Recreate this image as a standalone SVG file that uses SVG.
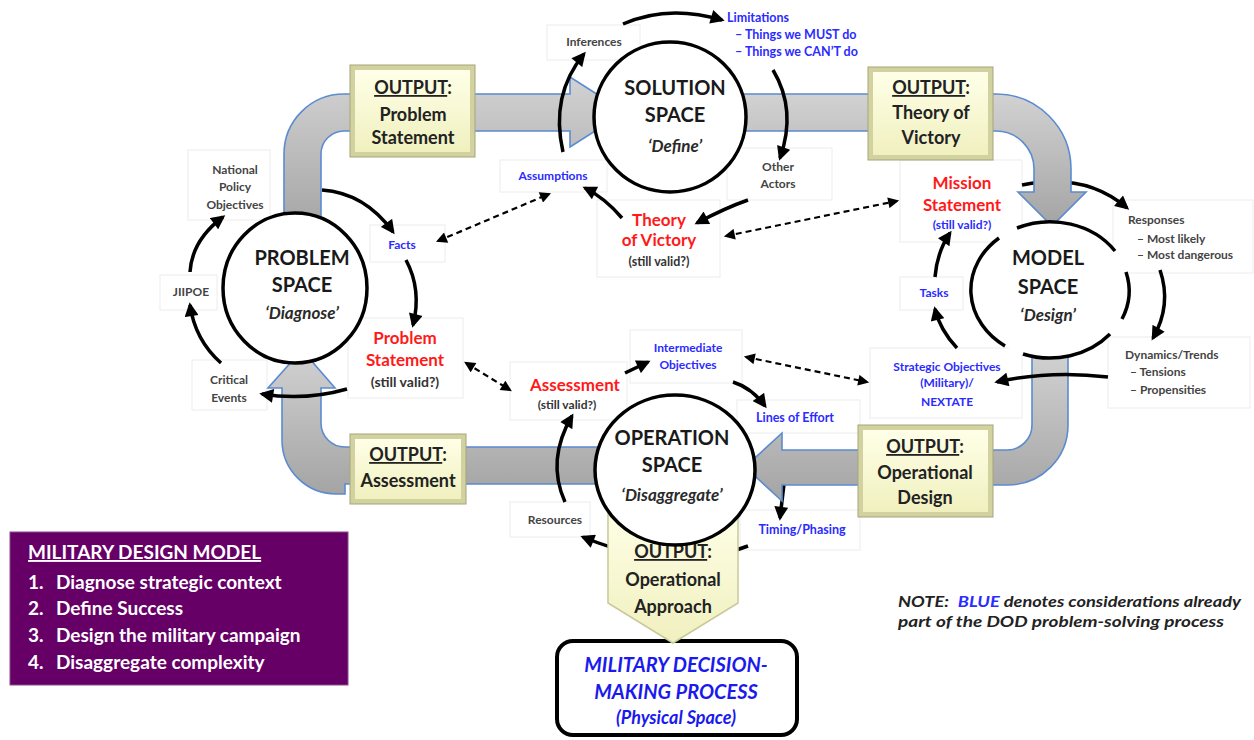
<svg xmlns="http://www.w3.org/2000/svg" width="1254" height="740" viewBox="0 0 1254 740">
<defs>
<style>
text{font-family:Lato,"Open Sans","Liberation Sans",sans-serif}
.lb{fill:#fff;stroke:#ececec;stroke-width:1}
.band{fill:url(#gray);stroke:#5b8bd0;stroke-width:1.6}
.space{fill:#fff;stroke:#000;stroke-width:3.5}
.arc{fill:none;stroke:#000;stroke-width:3.5}
.conn{fill:none;stroke:#000;stroke-width:3.5;marker-end:url(#ah)}
.dash{fill:none;stroke:#000;stroke-width:2.2;stroke-dasharray:6 4;marker-start:url(#dh);marker-end:url(#dh)}
.title{font-size:20px;font-weight:bold;fill:#1a1a1a;text-anchor:middle}
.sub{font-size:17px;font-weight:bold;font-style:italic;fill:#2a2a2a;text-anchor:middle}
.out{font-size:18px;font-weight:bold;fill:#222;text-anchor:middle}
.ul{text-decoration:underline}
.dk{font-size:12px;font-weight:bold;fill:#444;text-anchor:middle}
.dkl{font-size:12px;font-weight:bold;fill:#444}
.bl{font-size:12px;font-weight:bold;fill:#2b2bff;text-anchor:middle}
.bll{font-size:12.5px;font-weight:bold;fill:#2b2bff}
.rd{font-size:17px;font-weight:bold;fill:#ff1a1a;text-anchor:middle}
.sv{font-size:12.5px;font-weight:bold;fill:#333;text-anchor:middle}
.obox{fill:#d2d2a0;stroke:#a5a57a;stroke-width:1}
.obin{fill:url(#yel)}
.pur{font-size:19px;font-weight:bold;fill:#fff}
.md{font-size:20px;font-weight:bold;font-style:italic;fill:#1a1aee;text-anchor:middle}
.note{font-size:14.5px;font-weight:bold;font-style:italic;fill:#222}
</style>
<linearGradient id="gray" x1="0" y1="0" x2="0" y2="1">
<stop offset="0" stop-color="#d2d2d2"/><stop offset="1" stop-color="#a4a4a4"/>
</linearGradient>
<linearGradient id="yel" x1="0" y1="0" x2="0" y2="1">
<stop offset="0" stop-color="#ffffe8"/><stop offset="1" stop-color="#f0f0bf"/>
</linearGradient>
<marker id="ah" viewBox="0 0 10 10" refX="8" refY="5" markerWidth="15" markerHeight="14" markerUnits="userSpaceOnUse" orient="auto"><path d="M0,0 L10,5 L0,10 Z" fill="#000"/></marker>
<marker id="dh" viewBox="0 0 10 10" refX="8" refY="5" markerWidth="12" markerHeight="11" markerUnits="userSpaceOnUse" orient="auto-start-reverse"><path d="M0,0 L10,5 L0,10 Z" fill="#000"/></marker>
</defs>
<rect width="1254" height="740" fill="#fff"/>

<g id="label-boxes">
<rect class="lb" x="188" y="150" width="82" height="70"/>
<rect class="lb" x="160" y="275" width="57" height="35"/>
<rect class="lb" x="192" y="360" width="75" height="50"/>
<rect class="lb" x="370" y="225" width="75" height="37"/>
<rect class="lb" x="348" y="318" width="115" height="80"/>
<rect class="lb" x="547" y="25" width="93" height="35"/>
<rect class="lb" x="727" y="148" width="105" height="52"/>
<rect class="lb" x="500" y="160" width="107" height="32"/>
<rect class="lb" x="597" y="200" width="123" height="77"/>
<rect class="lb" x="900" y="160" width="122" height="82"/>
<rect class="lb" x="900" y="277" width="63" height="33"/>
<rect class="lb" x="1113" y="200" width="140" height="73"/>
<rect class="lb" x="1108" y="337" width="142" height="71"/>
<rect class="lb" x="870" y="348" width="152" height="70"/>
<rect class="lb" x="510" y="362" width="117" height="58"/>
<rect class="lb" x="630" y="330" width="112" height="53"/>
<rect class="lb" x="737" y="400" width="123" height="33"/>
<rect class="lb" x="740" y="510" width="120" height="40"/>
<rect class="lb" x="510" y="502" width="80" height="35"/>
</g>

<g id="mdmp">
<rect x="557" y="641" width="240" height="94" rx="16" fill="#fff" stroke="#000" stroke-width="4"/>
<text class="md" x="676" y="672">MILITARY DECISION-</text>
<text class="md" x="676" y="699">MAKING PROCESS</text>
<text class="md" x="676" y="724" style="font-size:18px">(Physical Space)</text>
</g>

<g id="connectors-under">
<path class="conn" d="M322,190 Q365,193 393,232"/>
<path class="conn" d="M1022,185 Q1085,172 1127,208"/>
<path class="conn" d="M784,484 L780,518"/>
<path class="conn" d="M748,546 Q675,575 583,537"/>
</g>

<g id="flow-bands">
<path class="band" d="M284,232 L284,154 A60,60 0 0 1 344,94 L570,94 L570,77 L625,112 L570,147 L570,131 L344,131 A23,23 0 0 0 321,154 L321,232 Z"/>
<path class="band" d="M740,94 L996,94 A75,75 0 0 1 1071,169 L1071,192 L1086,192 L1052,226 L1018,192 L1034,192 L1034,169 A38,38 0 0 0 996,131 L740,131 Z"/>
<path class="band" d="M1032,350 L1032,425 A25,25 0 0 1 1007,450 L782,450 L782,433 L745,467 L782,501 L782,485 L1008,485 A60,60 0 0 0 1068,425 L1068,350 Z"/>
<path class="band" d="M610,447 L345,447 A24,24 0 0 1 321,423 L321,388 L335,388 L302,350 L268,388 L282,388 L282,440 A54,54 0 0 0 336,494 L345,494 L345,484 L610,484 Z"/>
</g>

<g id="output-approach">
<path d="M608,505 L738,505 L738,603 L673,643 L608,603 Z" fill="url(#yel)" stroke="#c9c99a" stroke-width="1.5"/>
<text class="out" x="673" y="558"><tspan class="ul">OUTPUT</tspan>:</text>
<text class="out" x="673" y="586">Operational</text>
<text class="out" x="673" y="613">Approach</text>
</g>

<g id="problem-space">
<ellipse class="space" cx="295" cy="288" rx="72" ry="75"/>
<text class="title" x="302" y="265">PROBLEM</text>
<text class="title" x="302" y="292">SPACE</text>
<text class="sub" x="302" y="319">‘Diagnose’</text>
</g>
<g id="solution-space">
<ellipse class="space" cx="670" cy="117" rx="76" ry="75"/>
<text class="title" x="675" y="95">SOLUTION</text>
<text class="title" x="675" y="122">SPACE</text>
<text class="sub" x="675" y="152">‘Define’</text>
</g>
<g id="model-space">
<ellipse cx="1050" cy="290" rx="79" ry="68" fill="#fff"/>
<path class="arc" d="M1017,228 A79,68 0 0 1 1115,251"/>
<path class="arc" d="M1126,272 A79,68 0 0 1 1122,319"/>
<path class="arc" d="M1110,334 A79,68 0 0 1 1023,354"/>
<path class="arc" d="M1005,346 A79,68 0 0 1 999,238"/>
<text class="title" x="1048" y="265">MODEL</text>
<text class="title" x="1048" y="294">SPACE</text>
<text class="sub" x="1048" y="321">‘Design’</text>
</g>
<g id="operation-space">
<ellipse class="space" cx="675" cy="470" rx="80" ry="75"/>
<text class="title" x="672" y="445">OPERATION</text>
<text class="title" x="672" y="472">SPACE</text>
<text class="sub" x="672" y="501">‘Disaggregate’</text>
</g>

<g id="connectors">
<path class="conn" d="M406,260 Q422,290 413,325"/>
<path class="conn" d="M347,389 Q305,401 262,394"/>
<path class="conn" d="M221,363 Q195,340 190,305"/>
<path class="conn" d="M190,272 Q192,240 223,217"/>
<path class="conn" d="M563,152 Q550,95 584,54"/>
<path class="conn" d="M623,24 Q668,4 722,20"/>
<path class="conn" d="M773,70 Q797,110 780,158"/>
<path class="conn" d="M748,200 Q725,208 697,223"/>
<path class="conn" d="M622,218 Q605,198 585,188"/>
<path class="conn" d="M1160,270 Q1172,305 1153,338"/>
<path class="conn" d="M1108,377 Q1050,370 997,382"/>
<path class="conn" d="M957,348 Q940,330 935,309"/>
<path class="conn" d="M935,277 Q937,252 950,233"/>
<path class="conn" d="M625,373 L648,362"/>
<path class="conn" d="M733,382 Q752,388 765,406"/>
<path class="conn" d="M565,502 Q546,460 572,416"/>
<path class="dash" d="M438,241 L549,194"/>
<path class="dash" d="M726,236 L897,201"/>
<path class="dash" d="M466,363 L510,390"/>
<path class="dash" d="M746,357 L867,382"/>
</g>

<g id="output-problem-statement">
<rect class="obox" x="350" y="65" width="125" height="92"/>
<rect class="obin" x="355" y="70" width="115" height="82"/>
<text class="out" x="413" y="94"><tspan class="ul">OUTPUT</tspan>:</text>
<text class="out" x="413" y="121">Problem</text>
<text class="out" x="413" y="144">Statement</text>
</g>
<g id="output-theory">
<rect class="obox" x="868" y="67" width="125" height="93"/>
<rect class="obin" x="873" y="72" width="115" height="83"/>
<text class="out" x="931" y="94"><tspan class="ul">OUTPUT</tspan>:</text>
<text class="out" x="931" y="119">Theory of</text>
<text class="out" x="931" y="144">Victory</text>
</g>
<g id="output-design">
<rect class="obox" x="858" y="425" width="135" height="92"/>
<rect class="obin" x="863" y="430" width="125" height="82"/>
<text class="out" x="925" y="453"><tspan class="ul">OUTPUT</tspan>:</text>
<text class="out" x="925" y="479">Operational</text>
<text class="out" x="925" y="504">Design</text>
</g>
<g id="output-assessment">
<rect class="obox" x="350" y="434" width="116" height="70"/>
<rect class="obin" x="355" y="439" width="106" height="60"/>
<text class="out" x="408" y="461"><tspan class="ul">OUTPUT</tspan>:</text>
<text class="out" x="408" y="487">Assessment</text>
</g>

<g id="labels">
<text class="dk" x="235" y="174">National</text>
<text class="dk" x="235" y="191">Policy</text>
<text class="dk" x="235" y="209">Objectives</text>
<text class="dk" x="191" y="296">JIIPOE</text>
<text class="dk" x="229" y="384">Critical</text>
<text class="dk" x="229" y="402">Events</text>
<text class="bl" x="402" y="249">Facts</text>
<text class="rd" x="405" y="344">Problem</text>
<text class="rd" x="405" y="366">Statement</text>
<text class="sv" x="405" y="387" style="font-size:14px">(still valid?)</text>
<text class="dk" x="594" y="46">Inferences</text>
<text class="bll" x="727" y="22">Limitations</text>
<text class="bll" x="735" y="39">– Things we MUST do</text>
<text class="bll" x="735" y="56">– Things we CAN’T do</text>
<text class="dk" x="778" y="171">Other</text>
<text class="dk" x="778" y="188">Actors</text>
<text class="bl" x="553" y="180">Assumptions</text>
<text class="rd" x="659" y="226">Theory</text>
<text class="rd" x="659" y="246">of Victory</text>
<text class="sv" x="659" y="266">(still valid?)</text>
<text class="rd" x="962" y="189">Mission</text>
<text class="rd" x="962" y="211">Statement</text>
<text class="bl" x="962" y="229">(still valid?)</text>
<text class="bl" x="934" y="297">Tasks</text>
<text class="dkl" x="1128" y="224">Responses</text>
<text class="dkl" x="1137" y="243">– Most likely</text>
<text class="dkl" x="1137" y="259">– Most dangerous</text>
<text class="dkl" x="1125" y="359">Dynamics/Trends</text>
<text class="dkl" x="1130" y="376">– Tensions</text>
<text class="dkl" x="1130" y="394">– Propensities</text>
<text class="bl" x="947" y="371">Strategic Objectives</text>
<text class="bl" x="947" y="387">(Military)/</text>
<text class="bl" x="947" y="406">NEXTATE</text>
<text class="rd" x="575" y="391">Assessment</text>
<text class="sv" x="567" y="409" style="font-size:12px">(still valid?)</text>
<text class="bl" x="688" y="352">Intermediate</text>
<text class="bl" x="688" y="369">Objectives</text>
<text class="bl" x="795" y="422" style="font-size:12.5px">Lines of Effort</text>
<text class="bl" x="802" y="534" style="font-size:12.5px">Timing/Phasing</text>
<text class="dk" x="555" y="524">Resources</text>
</g>

<g id="legend">
<rect x="10" y="532" width="338" height="153" fill="#660066" stroke="#8a4a8a" stroke-width="1"/>
<text class="pur" x="28" y="559"><tspan class="ul">MILITARY DESIGN MODEL</tspan></text>
<text class="pur" x="28" y="589">1.<tspan x="56">Diagnose strategic context</tspan></text>
<text class="pur" x="28" y="615">2.<tspan x="56">Define Success</tspan></text>
<text class="pur" x="28" y="642">3.<tspan x="56">Design the military campaign</tspan></text>
<text class="pur" x="28" y="669">4.<tspan x="56">Disaggregate complexity</tspan></text>
</g>

<g id="note">
<text class="note" x="898" y="607" textLength="343" lengthAdjust="spacingAndGlyphs">NOTE:<tspan dx="7" fill="#2b2bff">BLUE</tspan> denotes considerations already</text>
<text class="note" x="898" y="627" textLength="326" lengthAdjust="spacingAndGlyphs">part of the DOD problem-solving process</text>
</g>
</svg>
